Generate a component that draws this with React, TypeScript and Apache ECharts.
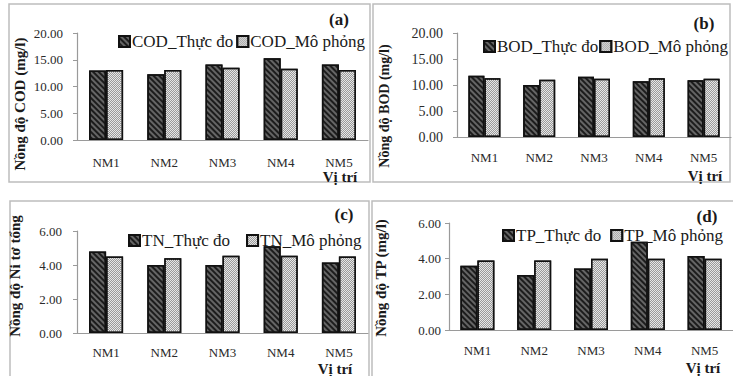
import React, { useEffect, useRef } from "react";
import * as echarts from "echarts";

const categories = ["NM1", "NM2", "NM3", "NM4", "NM5"];

const codMeasured = [13.0, 12.3, 14.1, 15.3, 14.1];
const codSimulated = [13.1, 13.1, 13.5, 13.3, 13.1];
const bodMeasured = [11.8, 10.0, 11.6, 10.7, 10.9];
const bodSimulated = [11.3, 11.0, 11.2, 11.3, 11.2];
const tnMeasured = [4.8, 4.0, 4.0, 5.1, 4.15];
const tnSimulated = [4.5, 4.4, 4.55, 4.55, 4.5];
const tpMeasured = [3.6, 3.08, 3.45, 4.95, 4.15];
const tpSimulated = [3.9, 3.9, 4.0, 4.0, 4.0];

const seriesNames = [
  ["COD_Thực đo", "COD_Mô phỏng"],
  ["BOD_Thực đo", "BOD_Mô phỏng"],
  ["TN_Thực đo", "TN_Mô phỏng"],
  ["TP_Thực đo", "TP_Mô phỏng"],
];
const yTitles = ["Nồng độ COD (mg/l)", "Nồng độ BOD (mg/l)", "Nồng độ Ni tơ tổng", "Nồng độ TP (mg/l)"];
const panelTags = ["(a)", "(b)", "(c)", "(d)"];
const xTitle = "Vị trí";
const yMax = [20, 20, 6, 6];
const yStep = [5, 5, 2, 2];

const FONT = "Liberation Serif, Times New Roman, serif";
const TEXT = "#1a1a1a";

const darkStyle = {
  color: "#656565",
  borderColor: "#111",
  borderWidth: 1.5,
  decal: {
    symbol: "rect",
    color: "#1c1c1c",
    dashArrayX: [1, 0],
    dashArrayY: [2, 2],
    rotation: Math.PI / 4,
    symbolSize: 1,
  },
};
const lightStyle = {
  color: "#e6e6e6",
  borderColor: "#111",
  borderWidth: 1.5,
  decal: {
    symbol: "rect",
    color: "#9a9a9a",
    dashArrayX: [[1, 1], [0, 1, 1, 0]],
    dashArrayY: [1, 0],
    symbolSize: 1,
  },
};

export default function App() {
  const ref = useRef<HTMLDivElement>(null);
  useEffect(() => {
    if (!ref.current) return;
    const chart = echarts.init(ref.current, null, { renderer: "svg" });

    const grids = [
      { left: 77, right: 365, top: 33, bottom: 236 },
      { left: 457, right: 2, top: 33, bottom: 239 },
      { left: 77, right: 365, top: 231, bottom: 43 },
      { left: 449, right: 0, top: 223, bottom: 46 },
    ];
    const yLabelCfg = [
      { fontSize: 13, margin: 14 },
      { fontSize: 14, margin: 14 },
      { fontSize: 13, margin: 15 },
      { fontSize: 13, margin: 8 },
    ];
    const xLabelMargin = [16, 14, 13, 14];
    const barW = [17, 16, 17, 17];
    const measured = [codMeasured, bodMeasured, tnMeasured, tpMeasured];
    const simulated = [codSimulated, bodSimulated, tnSimulated, tpSimulated];

    const legendPos = [
      { left: 118, top: 33, itemGap: 3 },
      { left: 483, top: 38, itemGap: 1 },
      { left: 128, top: 232, itemGap: 16 },
      { left: 502, top: 227, itemGap: 9 },
    ];

    const boxes = [
      { x: 9, y: 4, w: 361, h: 178 },
      { x: 373, y: 4, w: 357, h: 178 },
      { x: 10, y: 201, w: 359, h: 185 },
      { x: 372, y: 201, w: 362, h: 185 },
    ];
    const titlePos = [
      { x: 20, y: 104, size: 15 },
      { x: 384, y: 106, size: 14 },
      { x: 15, y: 276, size: 15 },
      { x: 381, y: 278, size: 15 },
    ];
    const tagPos = [
      { x: 339, y: 19 },
      { x: 704, y: 23 },
      { x: 344, y: 214 },
      { x: 707, y: 216 },
    ];
    const xTitlePos = [
      { x: 340, y: 176.5 },
      { x: 705, y: 175.5 },
      { x: 335, y: 369 },
      { x: 703, y: 367.5 },
    ];

    const graphic: any[] = [];
    boxes.forEach((b) => {
      graphic.push({
        type: "rect",
        shape: { x: b.x, y: b.y, width: b.w, height: b.h },
        style: { fill: "none", stroke: "#bdbdbd", lineWidth: 1.5 },
        silent: true,
      });
    });
    titlePos.forEach((t, i) => {
      graphic.push({
        type: "text",
        x: t.x,
        y: t.y,
        rotation: Math.PI / 2,
        style: {
          text: yTitles[i],
          align: "center",
          verticalAlign: "middle",
          fontFamily: FONT,
          fontWeight: "bold",
          fontSize: t.size,
          fill: TEXT,
        },
      });
    });
    tagPos.forEach((t, i) => {
      graphic.push({
        type: "text",
        x: t.x,
        y: t.y,
        style: {
          text: panelTags[i],
          align: "center",
          verticalAlign: "middle",
          fontFamily: FONT,
          fontWeight: "bold",
          fontSize: 17,
          fill: TEXT,
        },
      });
    });
    xTitlePos.forEach((t) => {
      graphic.push({
        type: "text",
        x: t.x,
        y: t.y,
        style: {
          text: xTitle,
          align: "center",
          verticalAlign: "middle",
          fontFamily: FONT,
          fontWeight: "bold",
          fontSize: 15,
          lineHeight: 14,
          fill: TEXT,
        },
      });
    });

    const option: any = {
      animation: false,
      backgroundColor: "#ffffff",
      textStyle: { fontFamily: FONT },
      grid: grids,
      xAxis: grids.map((_, i) => ({
        type: "category",
        gridIndex: i,
        data: categories,
        axisLine: { show: true, lineStyle: { color: "#9a9a9a", width: 1.2 } },
        axisTick: { show: false },
        axisLabel: {
          fontFamily: FONT,
          fontSize: 13,
          lineHeight: 13,
          color: "#2a2a2a",
          margin: xLabelMargin[i],
        },
      })),
      yAxis: grids.map((_, i) => ({
        type: "value",
        gridIndex: i,
        min: 0,
        max: yMax[i],
        interval: yStep[i],
        splitLine: { show: false },
        axisLine: { show: true, lineStyle: { color: "#9a9a9a", width: 1.2 } },
        axisTick: { show: true, length: 4, lineStyle: { color: "#9a9a9a" } },
        axisLabel: {
          fontFamily: FONT,
          fontSize: yLabelCfg[i].fontSize,
          margin: yLabelCfg[i].margin,
          color: "#2a2a2a",
          formatter: (v: number) => v.toFixed(2),
        },
      })),
      legend: legendPos.map((p, i) => ({
        data: seriesNames[i],
        left: p.left,
        top: p.top,
        itemGap: p.itemGap,
        padding: 0,
        orient: "horizontal",
        icon: "rect",
        itemWidth: 11,
        itemHeight: 11,
        selectedMode: false,
        textStyle: { fontFamily: FONT, fontSize: 17, color: TEXT, padding: [0, 0, 0, -3] },
      })),
      series: [] as any[],
      graphic,
    };

    for (let i = 0; i < 4; i++) {
      option.series.push({
        type: "bar",
        name: seriesNames[i][0],
        xAxisIndex: i,
        yAxisIndex: i,
        data: measured[i],
        barWidth: barW[i],
        barGap: "0%",
        itemStyle: darkStyle,
      });
      option.series.push({
        type: "bar",
        name: seriesNames[i][1],
        xAxisIndex: i,
        yAxisIndex: i,
        data: simulated[i],
        barWidth: barW[i],
        barGap: "0%",
        itemStyle: lightStyle,
      });
    }

    chart.setOption(option);
    return () => chart.dispose();
  }, []);

  return (
    <div
      ref={ref}
      style={{ position: "fixed", left: 0, top: 0, width: 733, height: 376 }}
    />
  );
}
